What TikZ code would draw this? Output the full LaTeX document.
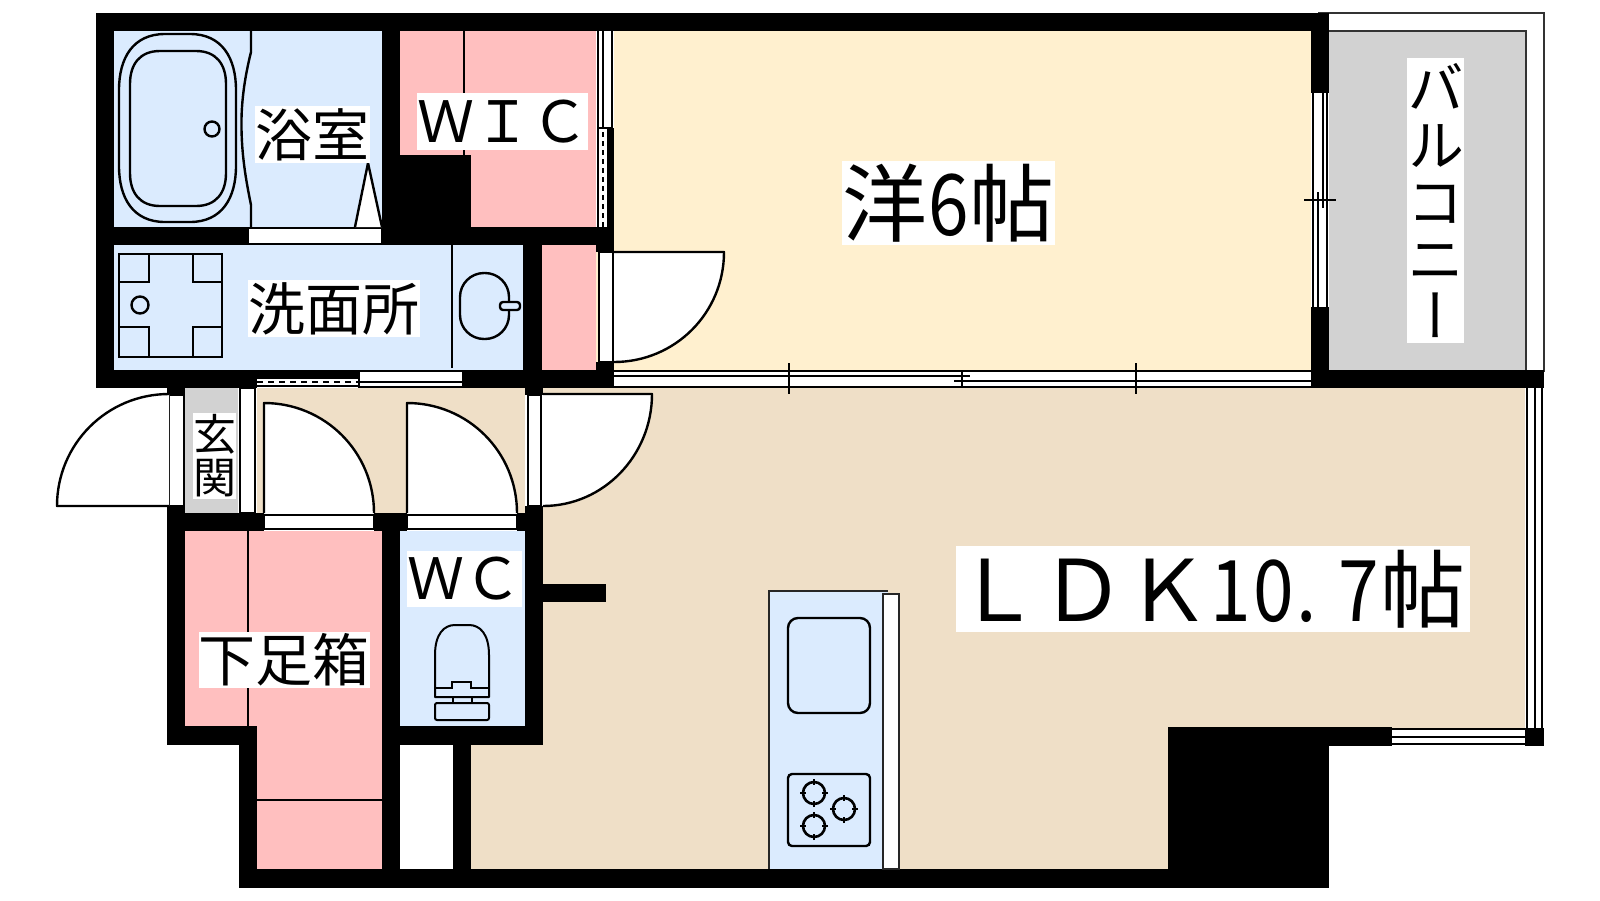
\documentclass[tikz,border=0pt]{standalone}
\usepackage{fontspec}
\setmainfont{Noto Sans CJK JP}
\newfontfamily\vertfont[RawFeature={+vert}]{Noto Sans CJK JP}
\definecolor{wetblue}{HTML}{DBEBFE}
\definecolor{closetpink}{HTML}{FFBFBF}
\definecolor{bedcream}{HTML}{FFF0CF}
\definecolor{floorbeige}{HTML}{EFDFC7}
\definecolor{outgrey}{HTML}{D2D2D2}
\newcommand{\hw}[1]{\makebox[.5em][c]{\scalebox{.86}[1]{#1}}}
\tikzset{
  x=1pt,y=-1pt,
  wall/.style={fill=black,draw=none},
  fix/.style={draw=black,line width=2.4pt},
  thinfix/.style={draw=black,line width=2pt},
  frame/.style={fill=white,draw=black,line width=2pt},
  door/.style={fill=white,draw=black,line width=2.4pt,line join=round},
  lab/.style={fill=white,inner sep=0pt,text=black,align=center,anchor=center},
  lab57/.style={lab,font=\fontsize{57}{57}\selectfont},
  lab85/.style={lab,font=\fontsize{85}{85}\selectfont},
}
\begin{document}
\begin{tikzpicture}
\useasboundingbox (0,0) rectangle (1600,900);
% rooms
\fill[wetblue] (114,31) rectangle (382,227);
\fill[wetblue] (114,245) rectangle (523,370);
\fill[wetblue] (400,531) rectangle (525,726);
\fill[closetpink] (400,31) rectangle (596,227);
\fill[closetpink] (542,245) rectangle (596,370);
\fill[closetpink] (185,531) -- (382,531) -- (382,869) -- (257,869) -- (257,726) -- (185,726) -- cycle;
\fill[bedcream] (614,31) rectangle (1311,370);
\fill[bedcream] (596,245) rectangle (1311,370);
\fill[outgrey] (1329,31) rectangle (1526,370);
\fill[outgrey] (185,388) rectangle (238,513);
\fill[floorbeige] (257,388) rectangle (525,513);
\fill[floorbeige] (543,388) -- (1527,388) -- (1527,728) -- (1168,728) -- (1168,869) -- (471,869) -- (471,745) -- (543,745) -- cycle;
% balcony outline
\draw[draw=black!80,line width=2pt] (1318,13) -- (1544,13) -- (1544,372);
\draw[draw=black!80,line width=2pt] (1329,30.5) -- (1526,30.5) -- (1526,372);
% strips
\draw[frame] (240,388) rectangle (255,513);
\fill[white] (614,370) rectangle (1311,388);
\fill[white] (257,371) rectangle (462,388);
\fill[white] (1311,93) rectangle (1329,307);
\fill[white] (1525,388) rectangle (1544,728);
\fill[white] (1392,728) rectangle (1525,745);
\fill[white] (596,31) rectangle (614,227);
% wic side strip
\draw[thinfix] (598,31) -- (598,227);
\draw[thinfix] (603,31) -- (603,128);
\draw[thinfix] (612,31) -- (612,128);
\draw[thinfix] (598,128) -- (612,128);
\draw[thinfix,dash pattern=on 5pt off 4pt] (603,132) -- (603,227);
% right LDK window
\draw[thinfix] (1527,388) -- (1527,728);
\draw[thinfix] (1534.5,388) -- (1534.5,728);
\draw[thinfix] (1542,388) -- (1542,728);
% bottom window
\draw[thinfix] (1392,729) -- (1525,729);
\draw[thinfix] (1392,737) -- (1525,737);
\draw[thinfix] (1392,744) -- (1525,744);
% bedroom bottom window
\draw[thinfix] (614,371) -- (1311,371);
\draw[thinfix] (614,387) -- (1311,387);
\draw[thinfix] (614,376) -- (970,376);
\draw[thinfix] (954,381) -- (1311,381);
\draw[thinfix] (789,363) -- (789,394);
\draw[thinfix] (962,370) -- (962,388);
\draw[thinfix] (1136,363) -- (1136,394);
% bedroom right window
\draw[thinfix] (1313,93) -- (1313,307);
\draw[thinfix] (1327,93) -- (1327,307);
\draw[thinfix] (1322.5,93) -- (1322.5,208);
\draw[thinfix] (1317.5,192) -- (1317.5,307);
\draw[thinfix] (1304,200) -- (1336,200);
% washroom window
\fill[black] (257,370) rectangle (359,377);
\draw[thinfix] (257,378) -- (359,378);
\draw[thinfix] (257,386) -- (359,386);
\draw[thinfix,dash pattern=on 6pt off 5pt] (257,381.5) -- (359,381.5);
\draw[thinfix] (359,371) -- (462,371);
\draw[thinfix] (359,382) -- (462,382);
\draw[thinfix] (359,387) -- (462,387);
\draw[thinfix] (359,371) -- (359,388);
% walls
\fill[wall] (96,13) rectangle (1329,31);
\fill[wall] (96,13) rectangle (114,388);
\fill[wall] (96,227) rectangle (248,245);
\fill[wall] (382,227) rectangle (614,245);
\fill[wall] (382,31) rectangle (400,245);
\fill[wall] (400,155) rectangle (471,245);
\fill[wall] (523,245) rectangle (542,388);
\fill[wall] (96,370) rectangle (257,388);
\fill[wall] (462,370) rectangle (614,388);
\fill[wall] (607,128) rectangle (614,252);
\fill[wall] (596,227) rectangle (614,252);
\fill[wall] (596,362) rectangle (614,388);
\fill[wall] (1311,13) rectangle (1329,93);
\fill[wall] (1311,307) rectangle (1329,388);
\fill[wall] (1311,370) rectangle (1544,388);
\fill[wall] (167,388) rectangle (185,395);
\fill[wall] (525,388) rectangle (543,395);
\fill[wall] (167,506) rectangle (185,745);
\fill[wall] (167,513) rectangle (264,531);
\fill[wall] (374,513) rectangle (407,531);
\fill[wall] (517,513) rectangle (543,531);
\fill[wall] (525,506) rectangle (543,745);
\fill[wall] (382,513) rectangle (400,888);
\fill[wall] (167,726) rectangle (257,745);
\fill[wall] (400,726) rectangle (543,745);
\fill[wall] (239,745) rectangle (257,888);
\fill[wall] (453,745) rectangle (471,869);
\fill[wall] (239,869) rectangle (1329,888);
\fill[wall] (1168,727) rectangle (1329,888);
\fill[wall] (1329,727) rectangle (1392,746);
\fill[wall] (1525,728) rectangle (1544,746);
\fill[wall] (543,584) rectangle (606,602);
% door frames
\draw[frame] (169,395) rectangle (184,506);
\draw[frame] (528,395) rectangle (541,506);
\draw[frame] (599,252) rectangle (613,362);
\draw[frame] (264,515) rectangle (374,529);
\draw[frame] (407,515) rectangle (517,529);
\draw[frame] (248,228) rectangle (382,244);
% door leaves
\draw[door] (169,394) .. controls (107,394) and (57,444) .. (57,506) -- (169,506);
\draw[door] (264,513) -- (264,403) .. controls (325,403) and (374,452) .. (374,513);
\draw[door] (407,513) -- (407,403) .. controls (468,403) and (517,452) .. (517,513);
\draw[door] (543,394) -- (652,394) .. controls (652,455) and (604,506) .. (543,506);
\draw[door] (614,252) -- (724,252) .. controls (724,313) and (675,362) .. (614,362);
% bath
\draw[fix] (165,34) -- (190,34) .. controls (222,34) and (236,58) .. (236,90) -- (236,166) .. controls (236,198) and (222,222) .. (190,222) -- (165,222) .. controls (133,222) and (119,198) .. (119,166) -- (119,90) .. controls (119,58) and (133,34) .. (165,34) -- cycle;
\draw[fix] (160,51) -- (196,51) .. controls (216,51) and (226,64) .. (226,84) -- (226,173) .. controls (226,193) and (216,206) .. (196,206) -- (160,206) .. controls (140,206) and (130,193) .. (130,173) -- (130,84) .. controls (130,64) and (140,51) .. (160,51) -- cycle;
\draw[fix] (212,129) circle[radius=7.5pt];
\draw[fix] (251,31) -- (251,52) .. controls (244,80) and (241,105) .. (241.5,129) .. controls (242,160) and (247,185) .. (251,205) -- (251,227);
\draw[door] (355,227) -- (368,163) -- (382,227);
% washroom fixtures
\draw[fix] (119,254) rectangle (222,357);
\draw[fix] (149,254) -- (149,282) -- (119,282);
\draw[fix] (193,254) -- (193,282) -- (222,282);
\draw[fix] (149,357) -- (149,327) -- (119,327);
\draw[fix] (193,357) -- (193,327) -- (222,327);
\draw[fix] (140,305) circle[radius=8.5pt];
\draw[thinfix] (452,245) -- (452,368);
\draw[fix,rounded corners=24pt] (460,273) rectangle (509,339);
\draw[fix,fill=wetblue,rounded corners=3pt] (500,302) -- (520,302) -- (520,310) -- (500,310) -- cycle;
% closet lines
\draw[thinfix] (464,31) -- (464,155);
\draw[thinfix] (248,531) -- (248,726);
\draw[thinfix] (257,800) -- (382,800);
% toilet
\draw[thinfix,line join=round] (435,697) -- (435,655) .. controls (435,634) and (444,625) .. (455,625) -- (469,625) .. controls (480,625) and (489,634) .. (489,655) -- (489,697) -- cycle;
\draw[thinfix] (435,688) -- (452,688) -- (452,682) -- (471,682) -- (471,688) -- (489,688);
\draw[thinfix] (453,697) -- (453,703);
\draw[thinfix] (472,697) -- (472,703);
\draw[thinfix,rounded corners=2pt] (435,703) rectangle (489,720);
% kitchen
\fill[wetblue] (769,590) rectangle (888,593);
\fill[wetblue] (769,593) rectangle (883,869);
\draw[thinfix,draw=black!85] (769,869) -- (769,590.5) -- (888,590.5);
\draw[frame,draw=black!85] (883,593.5) rectangle (899,869);
\draw[fix,rounded corners=10pt] (788,618) rectangle (870,713);
\draw[fix,rounded corners=4pt] (788,774) rectangle (870,846);
\foreach \cx/\cy in {814/793,844/809,814/826}{
  \draw[fix,line width=2.6pt] (\cx,\cy) circle[radius=11pt];
  \draw[thinfix] (\cx-14,\cy) -- (\cx-8,\cy);
  \draw[thinfix] (\cx+14,\cy) -- (\cx+8,\cy);
  \draw[thinfix] (\cx,\cy-14) -- (\cx,\cy-8);
  \draw[thinfix] (\cx,\cy+14) -- (\cx,\cy+8);
}
% labels
\node[lab57,minimum width=115pt,minimum height=57pt] (bath) at (312.5,134.5) {浴室};
\node[lab57,minimum width=171pt,minimum height=57pt] (wic) at (502.5,121.5) {ＷＩＣ};
\node[lab57,minimum width=172pt,minimum height=57pt] (wash) at (334,308.5) {洗面所};
\node[lab85,minimum width=213pt,minimum height=84pt] (bed) at (948.5,203) {洋\hw{6}帖};
\node[lab85,minimum width=514pt,minimum height=86pt] (ldk) at (1213,589) {\hspace{-6pt}ＬＤＫ\hw{1}\hw{0}\hspace{-10pt}\hw{.}\hspace{10pt}\hw{7}帖};
\node[lab57,minimum width=115pt,minimum height=56pt] (wc) at (464.5,579) {ＷＣ};
\node[lab57,minimum width=170pt,minimum height=56pt] (shoe) at (284,660) {下足箱};
\node[lab,font=\fontsize{43}{43}\selectfont,minimum width=43pt,minimum height=86pt] (entry) at (214.5,456) {玄\\関};
\node[lab,font=\fontsize{57}{57}\selectfont\vertfont,minimum width=57pt,minimum height=285pt] (balcony) at (1435.5,200.5) {バ\\ル\\コ\\ニ\\ー};
\end{tikzpicture}
\end{document}
